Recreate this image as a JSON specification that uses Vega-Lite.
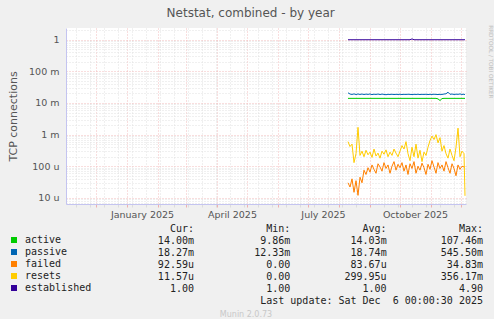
{
  "$schema": "https://vega.github.io/schema/vega-lite/v6.json",
  "background": "#f0f0f0",
  "padding": {"left": 7, "top": 7, "right": 0, "bottom": 0},
  "title": {"text": "Netstat, combined - by year", "font": "DejaVu Sans", "fontSize": 12, "fontWeight": "normal", "color": "#555555", "anchor": "middle", "offset": 5},
  "datasets": {
    "series": [
      {"t": "2025-08-10T00:00", "active": 0.014, "passive": 0.021, "failed": 3.0e-5, "resets": 6.0e-4, "established": 1},
      {"t": "2025-08-12T00:00", "active": 0.014, "passive": 0.0192, "failed": 2.2e-5, "resets": 4.2e-4, "established": 1},
      {"t": "2025-08-14T00:00", "active": 0.014, "passive": 0.0186, "failed": 4.0e-5, "resets": 5.0e-4, "established": 1},
      {"t": "2025-08-16T00:00", "active": 0.014, "passive": 0.0194, "failed": 1.5e-5, "resets": 1.3e-4, "established": 1},
      {"t": "2025-08-18T00:00", "active": 0.014, "passive": 0.0185, "failed": 3.5e-5, "resets": 2.5e-4, "established": 1},
      {"t": "2025-08-20T00:00", "active": 0.014, "passive": 0.0193, "failed": 1.2e-5, "resets": 1.7e-3, "established": 1},
      {"t": "2025-08-22T00:00", "active": 0.014, "passive": 0.0186, "failed": 4.5e-5, "resets": 2.2e-4, "established": 1},
      {"t": "2025-08-24T00:00", "active": 0.014, "passive": 0.0192, "failed": 3.0e-5, "resets": 3.0e-4, "established": 1},
      {"t": "2025-08-26T00:00", "active": 0.014, "passive": 0.0185, "failed": 7.5e-5, "resets": 2.0e-4, "established": 1},
      {"t": "2025-08-28T00:00", "active": 0.014, "passive": 0.0191, "failed": 5.5e-5, "resets": 3.2e-4, "established": 1},
      {"t": "2025-08-30T00:00", "active": 0.014, "passive": 0.0187, "failed": 9.0e-5, "resets": 2.3e-4, "established": 1},
      {"t": "2025-09-01T00:00", "active": 0.014, "passive": 0.0193, "failed": 6.5e-5, "resets": 2.8e-4, "established": 1},
      {"t": "2025-09-03T00:00", "active": 0.014, "passive": 0.0184, "failed": 1.1e-4, "resets": 1.9e-4, "established": 1},
      {"t": "2025-09-05T00:00", "active": 0.014, "passive": 0.019, "failed": 8.0e-5, "resets": 3.5e-4, "established": 1},
      {"t": "2025-09-07T00:00", "active": 0.014, "passive": 0.0186, "failed": 6.0e-5, "resets": 2.1e-4, "established": 1},
      {"t": "2025-09-09T00:00", "active": 0.014, "passive": 0.0192, "failed": 1.2e-4, "resets": 2.6e-4, "established": 1},
      {"t": "2025-09-11T00:00", "active": 0.014, "passive": 0.0185, "failed": 9.5e-5, "resets": 1.8e-4, "established": 1},
      {"t": "2025-09-13T00:00", "active": 0.014, "passive": 0.0191, "failed": 7.0e-5, "resets": 3.0e-4, "established": 1},
      {"t": "2025-09-15T00:00", "active": 0.014, "passive": 0.0187, "failed": 1.3e-4, "resets": 2.4e-4, "established": 1},
      {"t": "2025-09-17T00:00", "active": 0.014, "passive": 0.0183, "failed": 8.5e-5, "resets": 3.3e-4, "established": 1},
      {"t": "2025-09-19T00:00", "active": 0.014, "passive": 0.0188, "failed": 1.1e-4, "resets": 2.0e-4, "established": 1},
      {"t": "2025-09-21T00:00", "active": 0.014, "passive": 0.0186, "failed": 6.0e-5, "resets": 2.8e-4, "established": 1},
      {"t": "2025-09-23T00:00", "active": 0.014, "passive": 0.0189, "failed": 1.0e-4, "resets": 2.2e-4, "established": 1},
      {"t": "2025-09-25T00:00", "active": 0.014, "passive": 0.0185, "failed": 1.4e-4, "resets": 3.5e-4, "established": 1},
      {"t": "2025-09-27T00:00", "active": 0.014, "passive": 0.0188, "failed": 7.5e-5, "resets": 2.6e-4, "established": 1},
      {"t": "2025-09-29T00:00", "active": 0.014, "passive": 0.0186, "failed": 1.15e-4, "resets": 2.0e-4, "established": 1},
      {"t": "2025-10-01T00:00", "active": 0.014, "passive": 0.0189, "failed": 9.0e-5, "resets": 3.0e-4, "established": 1},
      {"t": "2025-10-03T00:00", "active": 0.014, "passive": 0.0185, "failed": 1.3e-4, "resets": 4.5e-4, "established": 1},
      {"t": "2025-10-05T00:00", "active": 0.014, "passive": 0.0188, "failed": 7.0e-5, "resets": 3.5e-4, "established": 1},
      {"t": "2025-10-07T00:00", "active": 0.014, "passive": 0.0186, "failed": 1.1e-4, "resets": 6.0e-4, "established": 1},
      {"t": "2025-10-09T00:00", "active": 0.014, "passive": 0.0189, "failed": 5.5e-5, "resets": 2.5e-4, "established": 1},
      {"t": "2025-10-11T00:00", "active": 0.014, "passive": 0.0187, "failed": 1.2e-4, "resets": 1.5e-4, "established": 1},
      {"t": "2025-10-13T00:00", "active": 0.014, "passive": 0.0185, "failed": 8.5e-5, "resets": 4.0e-4, "established": 1.06},
      {"t": "2025-10-15T00:00", "active": 0.014, "passive": 0.0188, "failed": 1.4e-4, "resets": 2.0e-4, "established": 1},
      {"t": "2025-10-17T00:00", "active": 0.014, "passive": 0.0186, "failed": 6.0e-5, "resets": 5.0e-4, "established": 1},
      {"t": "2025-10-19T00:00", "active": 0.014, "passive": 0.0189, "failed": 1.0e-4, "resets": 1.8e-4, "established": 1},
      {"t": "2025-10-21T00:00", "active": 0.014, "passive": 0.0185, "failed": 7.5e-5, "resets": 3.2e-4, "established": 1},
      {"t": "2025-10-23T00:00", "active": 0.014, "passive": 0.0188, "failed": 1.25e-4, "resets": 1.4e-4, "established": 1},
      {"t": "2025-10-25T00:00", "active": 0.014, "passive": 0.0186, "failed": 9.0e-5, "resets": 2.8e-4, "established": 1},
      {"t": "2025-10-27T00:00", "active": 0.014, "passive": 0.0189, "failed": 5.5e-5, "resets": 2.2e-4, "established": 1},
      {"t": "2025-10-29T00:00", "active": 0.014, "passive": 0.0185, "failed": 1.15e-4, "resets": 4.0e-4, "established": 1},
      {"t": "2025-10-31T00:00", "active": 0.014, "passive": 0.0188, "failed": 8.0e-5, "resets": 6.5e-4, "established": 1},
      {"t": "2025-11-02T00:00", "active": 0.014, "passive": 0.0186, "failed": 1.5e-4, "resets": 9.0e-4, "established": 1},
      {"t": "2025-11-04T00:00", "active": 0.014, "passive": 0.0189, "failed": 9.5e-5, "resets": 7.0e-4, "established": 1},
      {"t": "2025-11-06T00:00", "active": 0.014, "passive": 0.0187, "failed": 6.0e-5, "resets": 1.0e-3, "established": 1},
      {"t": "2025-11-08T00:00", "active": 0.0135, "passive": 0.0185, "failed": 1.3e-4, "resets": 5.5e-4, "established": 1},
      {"t": "2025-11-10T00:00", "active": 0.012, "passive": 0.0188, "failed": 8.5e-5, "resets": 8.0e-4, "established": 1},
      {"t": "2025-11-12T00:00", "active": 0.0138, "passive": 0.0186, "failed": 1.1e-4, "resets": 3.0e-4, "established": 1},
      {"t": "2025-11-14T00:00", "active": 0.014, "passive": 0.0192, "failed": 7.0e-5, "resets": 4.5e-4, "established": 1},
      {"t": "2025-11-16T00:00", "active": 0.014, "passive": 0.0195, "failed": 1.4e-4, "resets": 2.5e-4, "established": 1},
      {"t": "2025-11-18T00:00", "active": 0.014, "passive": 0.022, "failed": 9.0e-5, "resets": 1.8e-4, "established": 1},
      {"t": "2025-11-20T00:00", "active": 0.014, "passive": 0.0188, "failed": 6.0e-5, "resets": 3.5e-4, "established": 1},
      {"t": "2025-11-22T00:00", "active": 0.014, "passive": 0.0192, "failed": 1.2e-4, "resets": 2.2e-4, "established": 1},
      {"t": "2025-11-24T00:00", "active": 0.014, "passive": 0.0186, "failed": 8.5e-5, "resets": 1.5e-4, "established": 1},
      {"t": "2025-11-26T00:00", "active": 0.014, "passive": 0.019, "failed": 5.0e-5, "resets": 4.0e-4, "established": 1},
      {"t": "2025-11-28T00:00", "active": 0.014, "passive": 0.0188, "failed": 1.1e-4, "resets": 1.6e-3, "established": 1},
      {"t": "2025-11-30T00:00", "active": 0.014, "passive": 0.0193, "failed": 8.0e-5, "resets": 2.0e-4, "established": 1},
      {"t": "2025-12-02T00:00", "active": 0.014, "passive": 0.0186, "failed": 1.0e-4, "resets": 3.0e-4, "established": 1},
      {"t": "2025-12-04T00:00", "active": 0.014, "passive": 0.019, "failed": 9.5e-5, "resets": 2.5e-4, "established": 1},
      {"t": "2025-12-05T00:00", "active": 0.014, "passive": 0.0183, "failed": 9.26e-5, "resets": 1.16e-5, "established": 1}
    ],
    "stats": [
      {"row": "hdr", "col": "Cur", "txt": "Cur:\u00a0\u00a0"},
      {"row": "hdr", "col": "Min", "txt": "Min:\u00a0\u00a0"},
      {"row": "hdr", "col": "Avg", "txt": "Avg:\u00a0\u00a0"},
      {"row": "hdr", "col": "Max", "txt": "Max:\u00a0\u00a0"},
      {"row": "active", "col": "Cur", "txt": "14.00m"},
      {"row": "active", "col": "Min", "txt": "9.86m"},
      {"row": "active", "col": "Avg", "txt": "14.03m"},
      {"row": "active", "col": "Max", "txt": "107.46m"},
      {"row": "passive", "col": "Cur", "txt": "18.27m"},
      {"row": "passive", "col": "Min", "txt": "12.33m"},
      {"row": "passive", "col": "Avg", "txt": "18.74m"},
      {"row": "passive", "col": "Max", "txt": "545.50m"},
      {"row": "failed", "col": "Cur", "txt": "92.59u"},
      {"row": "failed", "col": "Min", "txt": "0.00\u00a0"},
      {"row": "failed", "col": "Avg", "txt": "83.67u"},
      {"row": "failed", "col": "Max", "txt": "34.83m"},
      {"row": "resets", "col": "Cur", "txt": "11.57u"},
      {"row": "resets", "col": "Min", "txt": "0.00\u00a0"},
      {"row": "resets", "col": "Avg", "txt": "299.95u"},
      {"row": "resets", "col": "Max", "txt": "356.17m"},
      {"row": "established", "col": "Cur", "txt": "1.00\u00a0"},
      {"row": "established", "col": "Min", "txt": "1.00\u00a0"},
      {"row": "established", "col": "Avg", "txt": "1.00\u00a0"},
      {"row": "established", "col": "Max", "txt": "4.90\u00a0"},
      {"row": "update", "col": "Max", "txt": "Last update: Sat Dec\u00a0 6 00:00:30 2025"}
    ]
  },
  "vconcat": [
    {
      "width": 400,
      "height": 176,
      "view": {"fill": "white", "stroke": null},
      "title": {"text": "RRDTOOL / TOBI OETIKER", "orient": "right", "anchor": "start", "font": "DejaVu Sans", "fontSize": 5.7, "fontWeight": "normal", "color": "#c0c0c0", "offset": 12},
      "data": {"name": "series"},
      "transform": [{"fold": ["active", "passive", "failed", "resets", "established"], "as": ["series", "value"]}],
      "mark": {"type": "line", "strokeWidth": 1, "clip": true},
      "encoding": {
        "x": {
          "field": "t", "type": "temporal",
          "scale": {"domain": [{"year": 2024, "month": 11, "date": 1}, {"year": 2025, "month": 12, "date": 6}]},
          "axis": {
            "title": null,
            "values": [
              {"year": 2024, "month": 11, "date": 11}, {"year": 2024, "month": 11, "date": 25},
              {"year": 2024, "month": 12, "date": 1}, {"year": 2024, "month": 12, "date": 9}, {"year": 2024, "month": 12, "date": 23},
              {"year": 2025, "month": 1, "date": 1}, {"year": 2025, "month": 1, "date": 6}, {"year": 2025, "month": 1, "date": 20},
              {"year": 2025, "month": 2, "date": 1}, {"year": 2025, "month": 2, "date": 3}, {"year": 2025, "month": 2, "date": 17},
              {"year": 2025, "month": 3, "date": 1}, {"year": 2025, "month": 3, "date": 3}, {"year": 2025, "month": 3, "date": 17}, {"year": 2025, "month": 3, "date": 31},
              {"year": 2025, "month": 4, "date": 1}, {"year": 2025, "month": 4, "date": 14}, {"year": 2025, "month": 4, "date": 28},
              {"year": 2025, "month": 5, "date": 1}, {"year": 2025, "month": 5, "date": 12}, {"year": 2025, "month": 5, "date": 26},
              {"year": 2025, "month": 6, "date": 1}, {"year": 2025, "month": 6, "date": 9}, {"year": 2025, "month": 6, "date": 23},
              {"year": 2025, "month": 7, "date": 1}, {"year": 2025, "month": 7, "date": 7}, {"year": 2025, "month": 7, "date": 21},
              {"year": 2025, "month": 8, "date": 1}, {"year": 2025, "month": 8, "date": 4}, {"year": 2025, "month": 8, "date": 18},
              {"year": 2025, "month": 9, "date": 1}, {"year": 2025, "month": 9, "date": 15}, {"year": 2025, "month": 9, "date": 29},
              {"year": 2025, "month": 10, "date": 1}, {"year": 2025, "month": 10, "date": 13}, {"year": 2025, "month": 10, "date": 27},
              {"year": 2025, "month": 11, "date": 1}, {"year": 2025, "month": 11, "date": 10}, {"year": 2025, "month": 11, "date": 24},
              {"year": 2025, "month": 12, "date": 1}
            ],
            "labelExpr": "date(datum.value) == 1 && month(datum.value) % 3 == 0 ? timeFormat(datum.value, '%B %Y') : ''",
            "labelOverlap": false,
            "labelFlush": false,
            "labelOffset": 15,
            "labelFont": "DejaVu Sans",
            "labelFontSize": 9.5,
            "labelColor": "#555555",
            "labelPadding": 2,
            "tickSize": 3,
            "tickColor": {"condition": {"test": "date(datum.value) == 1", "value": "#eeb0b0"}, "value": "#dcdcdc"},
            "gridColor": {"condition": {"test": "date(datum.value) == 1", "value": "#f2bcbc"}, "value": "#e0e0e0"},
            "gridDash": [1, 2],
            "gridOpacity": 1,
            "domainColor": "#c4c4f0"
          }
        },
        "y": {
          "field": "value", "type": "quantitative",
          "scale": {"type": "log", "domain": [6.4e-6, 2.35], "nice": false},
          "axis": {
            "title": "TCP connections",
            "titleFont": "DejaVu Sans",
            "titleFontSize": 11,
            "titleFontWeight": "normal",
            "titleColor": "#555555",
            "titlePadding": 10,
            "values": [7e-6, 8e-6, 9e-6, 1e-5, 2e-5, 3e-5, 4e-5, 5e-5, 6e-5, 7e-5, 8e-5, 9e-5, 1e-4, 2e-4, 3e-4, 4e-4, 5e-4, 6e-4, 7e-4, 8e-4, 9e-4, 1e-3, 2e-3, 3e-3, 4e-3, 5e-3, 6e-3, 7e-3, 8e-3, 9e-3, 0.01, 0.02, 0.03, 0.04, 0.05, 0.06, 0.07, 0.08, 0.09, 0.1, 0.2, 0.3, 0.4, 0.5, 0.6, 0.7, 0.8, 0.9, 1, 2],
            "labelExpr": "abs(log(datum.value)/LN10 - round(log(datum.value)/LN10)) < 0.001 ? ['10 u','100 u','1 m','10 m','100 m','1'][round(log(datum.value)/LN10)+5] : ''",
            "labelOverlap": false,
            "labelFlush": false,
            "labelFont": "DejaVu Sans",
            "labelFontSize": 9.5,
            "labelColor": "#555555",
            "labelPadding": 7,
            "ticks": false,
            "gridColor": {"condition": {"test": "abs(log(datum.value)/LN10 - round(log(datum.value)/LN10)) < 0.001", "value": "#f2bcbc"}, "value": "#e0e0e0"},
            "gridDash": [1, 2],
            "gridOpacity": 1,
            "domainColor": "#c4c4f0"
          }
        },
        "color": {
          "field": "series", "type": "nominal",
          "scale": {"domain": ["active", "passive", "failed", "resets", "established"], "range": ["#00cc00", "#0066b3", "#ff8000", "#ffcc00", "#330099"]},
          "legend": {
            "orient": "none", "legendX": -57, "legendY": 207, "title": null, "direction": "vertical",
            "symbolType": "square", "symbolSize": 36, "symbolStrokeWidth": 0,
            "labelFont": "DejaVu Sans Mono", "labelFontSize": 10, "labelColor": "#222222", "labelOffset": 6,
            "rowPadding": 2,
            "encode": {"symbols": {"update": {"fill": {"scale": "color", "field": "value"}, "fillOpacity": {"value": 1}, "opacity": {"value": 1}}}}
          }
        }
      }
    },
    {
      "width": 420,
      "height": 72,
      "data": {"name": "stats"},
      "title": {"text": "Munin 2.0.73", "orient": "bottom", "anchor": "middle", "frame": "group", "font": "DejaVu Sans", "fontSize": 8, "fontWeight": "normal", "color": "#c8c8c8", "dx": -30, "offset": 5},
      "mark": {"type": "text", "align": "right", "baseline": "middle", "font": "DejaVu Sans Mono", "fontSize": 10, "color": "#222222"},
      "encoding": {
        "x": {"field": "col", "type": "nominal", "scale": {"type": "point", "domain": ["Cur", "Min", "Avg", "Max"], "padding": 0.68, "align": 0.977}, "axis": null},
        "y": {"field": "row", "type": "nominal", "scale": {"type": "point", "domain": ["hdr", "active", "passive", "failed", "resets", "established", "update"], "padding": 0}, "axis": null},
        "text": {"field": "txt"}
      }
    }
  ],
  "spacing": 5,
  "config": {"view": {"stroke": null}}
}
